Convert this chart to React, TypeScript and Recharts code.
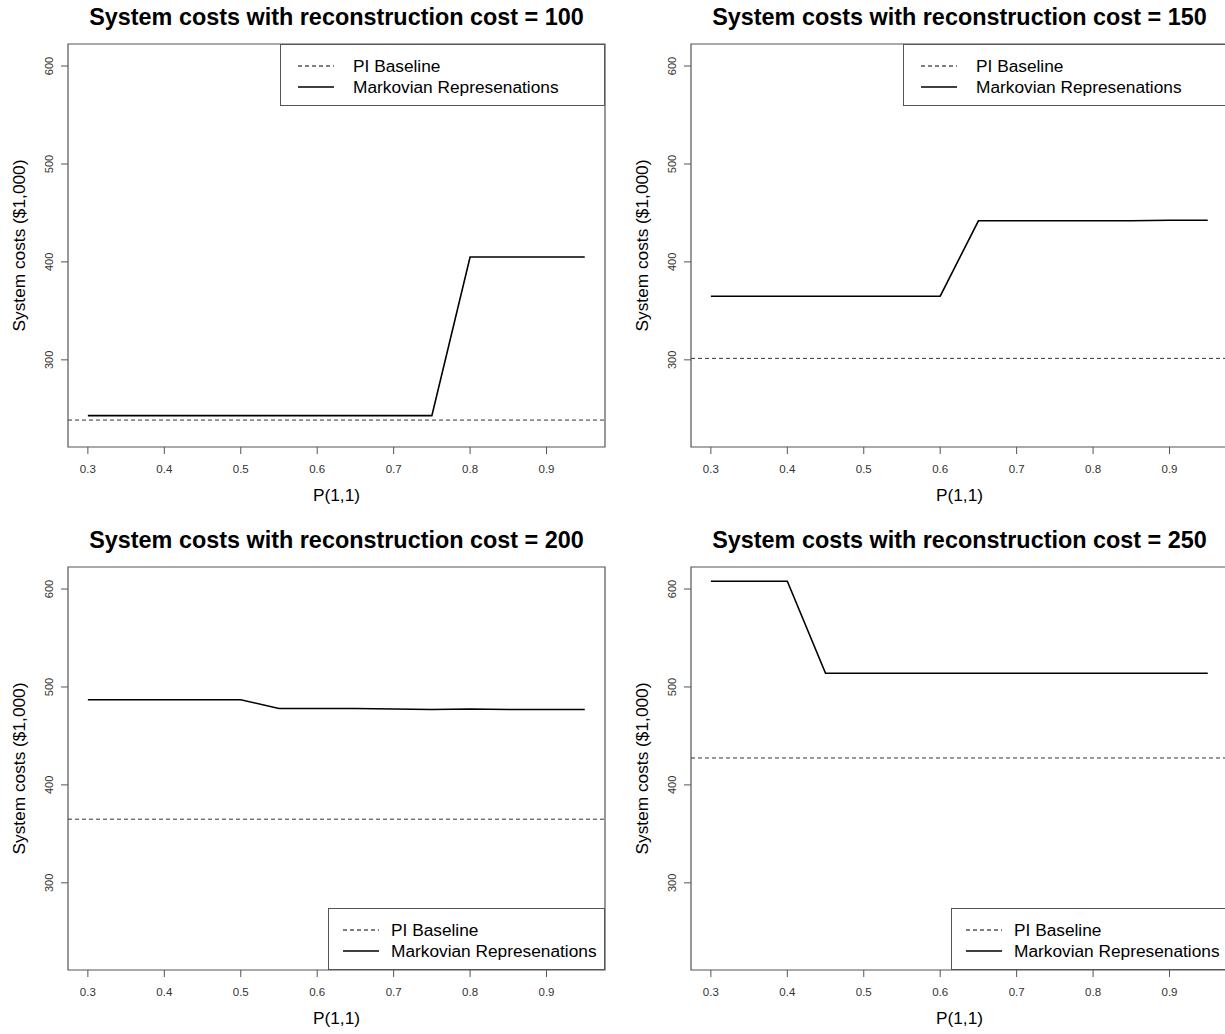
import { LineChart, Line, XAxis, YAxis, ReferenceLine, ReferenceArea, Legend } from 'recharts'

const FONT = '"Liberation Sans", Arial, sans-serif'

// P(1,1) grid used on every panel
const probs = [0.3, 0.35, 0.4, 0.45, 0.5, 0.55, 0.6, 0.65, 0.7, 0.75, 0.8, 0.85, 0.9, 0.95]
const xTicks = [0.3, 0.4, 0.5, 0.6, 0.7, 0.8, 0.9]
const yTicks = [300, 400, 500, 600]

const reconCosts = [100, 150, 200, 250]

// Markovian representation costs per reconstruction cost
const markov100 = [243, 243, 243, 243, 243, 243, 243, 243, 243, 243, 405, 405, 405, 405]
const markov150 = [365, 365, 365, 365, 365, 365, 365, 442, 442, 442, 442, 442, 442.5, 442.5]
const markov200 = [487, 487, 487, 487, 487, 478, 478, 478, 477.5, 477, 477.5, 477, 477, 477]
const markov250 = [608, 608, 608, 514, 514, 514, 514, 514, 514, 514, 514, 514, 514, 514]

// perfect information baseline
const piBaseline = [238.5, 301.5, 365, 427.5]

const legendItems = [
  { name: 'PI Baseline', dash: '4 3', width: 1 },
  { name: 'Markovian Represenations', dash: undefined, width: 1.6 },
]

const X_DOMAIN: [number, number] = [0.274, 0.9765]
const Y_DOMAIN: [number, number] = [211, 622.5]

const PANEL_W = 623
const PANEL_H = 523

function YTick({ x, y, payload }: any) {
  return (
    <text
      x={x}
      y={y}
      transform={`rotate(-90 ${x} ${y})`}
      textAnchor="middle"
      fontSize={11}
      fill="#333"
      fontFamily={FONT}
    >
      {payload.value}
    </text>
  )
}

function makeLegend(box: { w: number; lineX: number; textX: number }) {
  return () => (
    <svg width={box.w} height={62} style={{ display: 'block' }}>
      <rect x={0.5} y={0.5} width={box.w - 1} height={61} fill="#fff" stroke="#555" />
      {legendItems.map((item, i) => (
        <g key={item.name}>
          <line
            x1={box.lineX}
            x2={box.lineX + 36}
            y1={22 + i * 21}
            y2={22 + i * 21}
            stroke="#000"
            strokeWidth={item.width}
            strokeDasharray={item.dash}
          />
          <text
            x={box.textX}
            y={22 + i * 21}
            dominantBaseline="central"
            fontSize={17.3}
            fontFamily={FONT}
            fill="#000"
          >
            {item.name}
          </text>
        </g>
      ))}
    </svg>
  )
}

interface PanelProps {
  left: number
  top: number
  recon: number
  series: number[]
  baseline: number
  legendTop: boolean
}

function Panel({ left, top, recon, series, baseline, legendTop }: PanelProps) {
  const data = probs.map((p, i) => ({ p, cost: series[i] }))
  const legendBox = legendTop
    ? { left: 280, top: 44, w: 325, lineX: 18, textX: 73 }
    : { left: 328, top: 385, w: 277, lineX: 15, textX: 63 }

  return (
    <div style={{ position: 'absolute', left, top, width: PANEL_W, height: PANEL_H }}>
      <div
        style={{
          position: 'absolute',
          left: 68,
          width: 537,
          top: 3,
          textAlign: 'center',
          fontFamily: FONT,
          fontWeight: 'bold',
          fontSize: 23.4,
          lineHeight: '28px',
          color: '#000',
          whiteSpace: 'nowrap',
        }}
      >
        System costs with reconstruction cost = {recon}
      </div>
      <LineChart width={PANEL_W} height={PANEL_H} data={data} margin={{ top: 44, right: 18, bottom: 0, left: 0 }}>
        <XAxis
          dataKey="p"
          type="number"
          domain={X_DOMAIN}
          ticks={xTicks}
          axisLine={false}
          tickSize={7}
          tickMargin={11}
          tickLine={{ stroke: '#555' }}
          tick={{ fontSize: 11.5, fill: '#333', fontFamily: FONT }}
          height={76}
          allowDataOverflow
          label={{
            content: ({ viewBox }: any) => (
              <text
                x={viewBox.x + viewBox.width / 2}
                y={viewBox.y + 54}
                textAnchor="middle"
                fontSize={17.3}
                fontFamily={FONT}
                fill="#000"
              >
                P(1,1)
              </text>
            ),
          }}
        />
        <YAxis
          type="number"
          domain={Y_DOMAIN}
          ticks={yTicks}
          axisLine={false}
          tickSize={7}
          tickMargin={8}
          tickLine={{ stroke: '#555' }}
          tick={<YTick />}
          width={68}
          allowDataOverflow
          label={{
            content: ({ viewBox }: any) => {
              const cx = 25
              const cy = viewBox.y + viewBox.height / 2
              return (
                <text
                  x={cx}
                  y={cy}
                  transform={`rotate(-90 ${cx} ${cy})`}
                  textAnchor="middle"
                  fontSize={17.3}
                  fontFamily={FONT}
                  fill="#000"
                >
                  System costs ($1,000)
                </text>
              )
            },
          }}
        />
        <ReferenceLine y={baseline} stroke="#333" strokeWidth={1} strokeDasharray="4 3" />
        <Line
          dataKey="cost"
          type="linear"
          stroke="#000"
          strokeWidth={1.6}
          dot={false}
          activeDot={false}
          isAnimationActive={false}
        />
        <ReferenceArea
          x1={X_DOMAIN[0]}
          x2={X_DOMAIN[1]}
          y1={Y_DOMAIN[0]}
          y2={Y_DOMAIN[1]}
          fill="none"
          stroke="#555"
          strokeWidth={1.2}
          ifOverflow="visible"
        />
        <Legend
          layout="vertical"
          align="center"
          verticalAlign="middle"
          wrapperStyle={{ left: legendBox.left, top: legendBox.top, width: legendBox.w, height: 62 }}
          content={makeLegend(legendBox)}
        />
      </LineChart>
    </div>
  )
}

export default function App() {
  const all = [markov100, markov150, markov200, markov250]
  return (
    <div
      style={{
        position: 'absolute',
        left: 0,
        top: 0,
        width: 1225,
        height: 1034,
        overflow: 'hidden',
        background: '#fff',
      }}
    >
      {reconCosts.map((recon, i) => (
        <Panel
          key={recon}
          left={(i % 2) * PANEL_W}
          top={Math.floor(i / 2) * PANEL_H}
          recon={recon}
          series={all[i]}
          baseline={piBaseline[i]}
          legendTop={i < 2}
        />
      ))}
    </div>
  )
}
